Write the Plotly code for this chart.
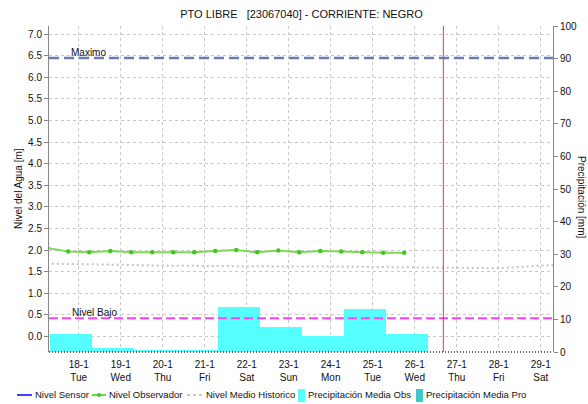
import pandas as pd
import plotly.graph_objects as go

# ---------------- data ----------------
title_text = "PTO LIBRE   [23067040] - CORRIENTE: NEGRO"

tick_days = ["2022-01-18", "2022-01-19", "2022-01-20", "2022-01-21", "2022-01-22", "2022-01-23",
             "2022-01-24", "2022-01-25", "2022-01-26", "2022-01-27", "2022-01-28", "2022-01-29"]
tick_labels = ["18-1<br>Tue", "19-1<br>Wed", "20-1<br>Thu", "21-1<br>Fri", "22-1<br>Sat", "23-1<br>Sun",
               "24-1<br>Mon", "25-1<br>Tue", "26-1<br>Wed", "27-1<br>Thu", "28-1<br>Fri", "29-1<br>Sat"]

obs_times = ["2022-01-17 18:00", "2022-01-18 06:00", "2022-01-18 18:00", "2022-01-19 06:00",
             "2022-01-19 18:00", "2022-01-20 06:00", "2022-01-20 18:00", "2022-01-21 06:00",
             "2022-01-21 18:00", "2022-01-22 06:00", "2022-01-22 18:00", "2022-01-23 06:00",
             "2022-01-23 18:00", "2022-01-24 06:00", "2022-01-24 18:00", "2022-01-25 06:00",
             "2022-01-25 18:00", "2022-01-26 06:00"]
obs_level = [2.05, 1.97, 1.95, 1.98, 1.95, 1.95, 1.95, 1.95, 1.98, 2.00, 1.95, 1.99,
             1.95, 1.98, 1.97, 1.95, 1.94, 1.94]

hist_days = ["2022-01-17 12:00", "2022-01-18 12:00", "2022-01-19 12:00", "2022-01-20 12:00",
             "2022-01-21 12:00", "2022-01-22 12:00", "2022-01-23 12:00", "2022-01-24 12:00",
             "2022-01-25 12:00", "2022-01-26 12:00", "2022-01-27 12:00", "2022-01-28 12:00",
             "2022-01-29 12:00", "2022-01-30 12:00"]
hist_level = [1.69, 1.68, 1.66, 1.64, 1.63, 1.62, 1.62, 1.62, 1.61, 1.60, 1.58, 1.58, 1.64, 1.68]

# precipitation: period end (19:30 of the day), daily totals
precip_end = ["2022-01-18 19:30", "2022-01-19 19:30", "2022-01-20 19:30", "2022-01-21 19:30",
              "2022-01-22 19:30", "2022-01-23 19:30", "2022-01-24 19:30", "2022-01-25 19:30",
              "2022-01-26 19:30"]
precip_obs = [5.5, 1.2, 0.5, 0.5, 13.7, 7.6, 4.8, 13.1, 5.4]

sensor_times = []
sensor_level = []

nivel_maximo = 6.45
nivel_bajo = 0.42
now_time = "2022-01-27 04:20"
x_range = ["2022-01-17 19:00", "2022-01-29 19:00"]
y_range = [-0.36, 7.19]
y2_range = [0, 100]

# ---------------- figure ----------------
L, R, T, B = 49, 35, 26, 52
W, H = 588, 404
PW, PH = W - L - R, H - T - B


def px(p):
    return (p - L) / PW


def py(p):
    return (H - B - p) / PH


day_ms = 86400000
bar_centers = pd.to_datetime(precip_end) - pd.Timedelta(hours=12)
tick_vals = pd.to_datetime(tick_days) + pd.Timedelta(hours=12)

fig = go.Figure()

fig.add_trace(go.Bar(x=bar_centers, y=precip_obs, width=day_ms, yaxis="y2",
                     marker=dict(color="#55ffff", line=dict(width=0)),
                     name="Precipitación Media Obs", showlegend=False))

fig.add_trace(go.Scatter(x=pd.to_datetime(hist_days), y=hist_level, mode="lines",
                         line=dict(color="#c4c4c4", width=2, dash="2px,3px"),
                         name="Nivel Medio Historico", showlegend=False))

fig.add_trace(go.Scatter(x=pd.to_datetime(sensor_times), y=sensor_level, mode="lines",
                         line=dict(color="#0000ff", width=1.5),
                         name="Nivel Sensor", showlegend=False))

fig.add_trace(go.Scatter(x=pd.to_datetime(obs_times), y=obs_level, mode="lines+markers",
                         line=dict(color="#80d85a", width=2),
                         marker=dict(color="#3cc81e", size=4.5, symbol="circle"),
                         name="Nivel Observador", showlegend=False))

# reference lines
fig.add_hline(y=nivel_maximo, line=dict(color="#6b7bb0", width=2.5, dash="10px,5px"), layer="above")
fig.add_hline(y=nivel_bajo, line=dict(color="#ff40ff", width=2, dash="9px,4px"), layer="above")
fig.add_vline(x=pd.Timestamp(now_time), line=dict(color="#e03a3a", width=1), layer="above")

# dotted baseline at bottom of plot
fig.add_shape(type="line", xref="paper", yref="paper", x0=0, x1=1, y0=0, y1=0,
              line=dict(color="#333333", width=1.5, dash="1px,2px"))

fig.add_annotation(x=px(69), y=nivel_maximo, xref="paper", yref="y", text="Maximo",
                   showarrow=False, xanchor="left", yanchor="bottom", yshift=-2,
                   font=dict(size=10, color="#111"))
fig.add_annotation(x=px(70), y=nivel_bajo, xref="paper", yref="y", text="Nivel Bajo",
                   showarrow=False, xanchor="left", yanchor="bottom", yshift=-2,
                   font=dict(size=10, color="#111"))

# axis titles
fig.add_annotation(x=px(18), y=py(189), xref="paper", yref="paper", text="Nivel del Agua [m]",
                   textangle=-90, showarrow=False, xanchor="center", yanchor="middle",
                   font=dict(size=10, color="#111"))
fig.add_annotation(x=px(582), y=py(197), xref="paper", yref="paper", text="Precipitación [mm]",
                   textangle=90, showarrow=False, xanchor="center", yanchor="middle",
                   font=dict(size=10, color="#111"))

# manual legend
ly = py(395)
legend_font = dict(size=9.5, color="#111")
fig.add_shape(type="line", xref="paper", yref="paper", x0=px(17), x1=px(32), y0=ly, y1=ly,
              line=dict(color="#0000ff", width=1.5))
fig.add_annotation(x=px(33), y=ly, xref="paper", yref="paper", text="Nivel Sensor",
                   showarrow=False, xanchor="left", yanchor="middle", font=legend_font)
fig.add_shape(type="line", xref="paper", yref="paper", x0=px(92), x1=px(106), y0=ly, y1=ly,
              line=dict(color="#3cc81e", width=1.5))
fig.add_shape(type="circle", xref="paper", yref="paper", x0=px(97), x1=px(101),
              y0=py(397), y1=py(393), fillcolor="#3cc81e", line=dict(width=0))
fig.add_annotation(x=px(107), y=ly, xref="paper", yref="paper", text="Nivel Observador",
                   showarrow=False, xanchor="left", yanchor="middle", font=legend_font)
fig.add_shape(type="line", xref="paper", yref="paper", x0=px(187), x1=px(203), y0=ly, y1=ly,
              line=dict(color="#c8c8c8", width=2, dash="3px,3px"))
fig.add_annotation(x=px(204), y=ly, xref="paper", yref="paper", text="Nivel Medio Historico",
                   showarrow=False, xanchor="left", yanchor="middle", font=legend_font)
fig.add_shape(type="rect", xref="paper", yref="paper", x0=px(298), x1=px(305),
              y0=py(402), y1=py(389), fillcolor="#55ffff", line=dict(width=0))
fig.add_annotation(x=px(306), y=ly, xref="paper", yref="paper", text="Precipitación Media Obs",
                   showarrow=False, xanchor="left", yanchor="middle", font=legend_font)
fig.add_shape(type="rect", xref="paper", yref="paper", x0=px(416), x1=px(423),
              y0=py(402), y1=py(389), fillcolor="#40c8c8", line=dict(width=0))
fig.add_annotation(x=px(424), y=ly, xref="paper", yref="paper", text="Precipitación Media Pro",
                   showarrow=False, xanchor="left", yanchor="middle", font=legend_font)

fig.update_layout(
    width=W, height=H,
    margin=dict(l=L, r=R, t=T, b=B, autoexpand=False),
    paper_bgcolor="white", plot_bgcolor="white",
    font=dict(family="Liberation Sans, Arial, sans-serif", size=10, color="#111"),
    title=dict(text=title_text, x=px(301.5), xref="paper", xanchor="center",
               y=1 - 14 / H, yref="container", yanchor="middle",
               font=dict(size=11, color="#111")),
    showlegend=False,
    bargap=0,
    hovermode=False,
    xaxis=dict(type="date", range=pd.to_datetime(x_range), tickvals=tick_vals, ticktext=tick_labels,
               showgrid=True, gridcolor="#c8c8c8", griddash="dot", gridwidth=1,
               showline=False, zeroline=False, ticks="outside", ticklen=3, tickcolor="rgba(0,0,0,0)",
               tickfont=dict(size=10)),
    yaxis=dict(range=y_range, tick0=0, dtick=0.5, tickformat=".1f",
               showgrid=True, gridcolor="#c8c8c8", griddash="dot", gridwidth=1,
               showline=True, linecolor="#888888", linewidth=1, zeroline=False,
               ticks="outside", ticklen=4, tickcolor="#888888", tickfont=dict(size=10)),
    yaxis2=dict(range=y2_range, dtick=10, overlaying="y", side="right", showgrid=False,
                showline=True, linecolor="#888888", linewidth=1, zeroline=False,
                ticks="outside", ticklen=4, tickcolor="#888888", tickfont=dict(size=10)),
)

fig.write_html("out.html", config={"displayModeBar": False, "staticPlot": True},
               post_script="document.body.style.margin='0';document.body.style.overflow='hidden';")
